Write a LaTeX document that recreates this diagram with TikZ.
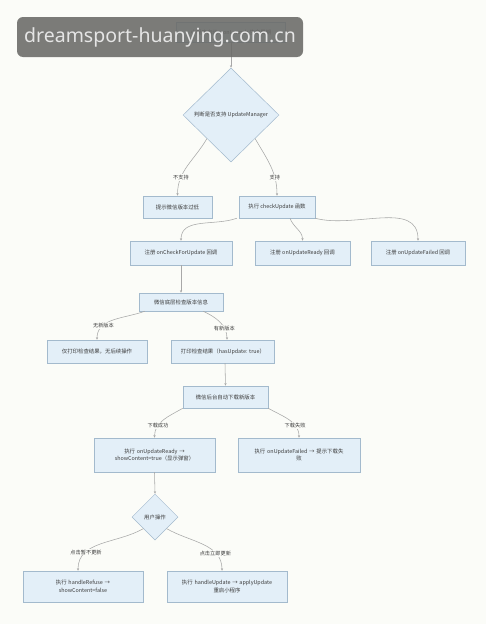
\documentclass[tikz,border=0pt]{standalone}
\usepackage{fontspec}
\setmainfont{Noto Sans}
\newfontfamily\cjk{Noto Sans CJK SC}
\usetikzlibrary{shapes.geometric,arrows.meta}
\definecolor{bgcol}{HTML}{FBFCF8}
\definecolor{boxfill}{HTML}{E3EFF8}
\definecolor{boxline}{HTML}{A3BACD}
\definecolor{txtcol}{HTML}{3C3C3C}
\definecolor{edgecol}{HTML}{A8A8A8}
\definecolor{wmfill}{HTML}{6A6A67}
\tikzset{
  box/.style={draw=boxline, fill=boxfill, line width=0.5pt, text=txtcol, align=center,
    font=\cjk\fontsize{5.4}{7.5}\selectfont, inner sep=1pt},
  dia/.style={box, diamond, aspect=1},
  lbl/.style={fill=bgcol, text=txtcol, font=\cjk\fontsize{5.2}{6}\selectfont, inner sep=1pt},
  edge/.style={draw=edgecol, line width=0.55pt, -{Stealth[length=2.6pt,width=2.2pt]}}
}
\begin{document}
\begin{tikzpicture}[x=1pt,y=-1pt]
\fill[bgcol] (0,0) rectangle (486,624);
\useasboundingbox (0,0) rectangle (486,624);

\node[box, minimum width=109pt, minimum height=20pt] (n1) at (231,32) {小程序启动：onLaunch 生命周期};
\node[dia, minimum width=96pt, minimum height=94pt] (d1) at (231,115) {判断是否支持 UpdateManager};
\node[box, minimum width=69pt, minimum height=22pt] (n2) at (177.5,207) {提示微信版本过低};
\node[box, minimum width=76pt, minimum height=22pt] (n3) at (277,207) {执行 checkUpdate 函数};
\node[box, minimum width=102pt, minimum height=24pt] (n4) at (181,253) {注册 onCheckForUpdate 回调};
\node[box, minimum width=95pt, minimum height=24pt] (n5) at (302.5,253) {注册 onUpdateReady 回调};
\node[box, minimum width=94pt, minimum height=24pt] (n6) at (418,253) {注册 onUpdateFailed 回调};
\node[box, minimum width=84pt, minimum height=18pt] (n7) at (181,302) {微信底层检查版本信息};
\node[box, minimum width=100pt, minimum height=23pt] (n8) at (97,351.5) {仅打印检查结果，无后续操作};
\node[box, minimum width=103pt, minimum height=23pt] (n9) at (223,351.5) {打印检查结果（hasUpdate: true）};
\node[box, minimum width=85pt, minimum height=22pt] (n10) at (225.5,397) {微信后台自动下载新版本};
\node[box, minimum width=121pt, minimum height=34pt, text width=105pt] (n11) at (154.5,455) {执行 onUpdateReady →\\showContent=true（显示弹窗）};
\node[box, minimum width=122pt, minimum height=34pt, text width=100pt] (n12) at (299,455) {执行 onUpdateFailed → 提示下载失\\败};
\node[dia, minimum width=46pt, minimum height=46pt] (d2) at (155,517) {用户操作};
\node[box, minimum width=120pt, minimum height=31pt, text width=105pt] (n13) at (83,586.5) {执行 handleRefuse →\\showContent=false};
\node[box, minimum width=120pt, minimum height=31pt, text width=105pt] (n14) at (227,586.5) {执行 handleUpdate → applyUpdate\\重启小程序};

\draw[edge] (n1.south) -- (d1.north);
\draw[edge] (d1.south west) to[out=-120,in=90] node[lbl,pos=0.72] {不支持} (n2.north);
\draw[edge] (d1.south east) to[out=-60,in=90] node[lbl,pos=0.72] {支持} (n3.north);
\draw[edge] ([xshift=-2pt]n3.south west) to[out=-160,in=90] (n4.north);
\draw[edge] ([xshift=13pt]n3.south) to[out=-70,in=90] (n5.north);
\draw[edge] (n3.south east) to[out=-15,in=90] (n6.north);
\draw[edge] (n4.south) -- (n7.north);
\draw[edge] ([xshift=6pt]n7.south west) to[out=-160,in=90] node[lbl,pos=0.7] {无新版本} (n8.north);
\draw[edge] ([xshift=-20pt]n7.south east) to[out=-25,in=90] node[lbl,pos=0.7] {有新版本} ([xshift=4pt]n9.north);
\draw[edge] ([xshift=2pt]n9.south) -- (n10.north);
\draw[edge] (n10.south west) to[out=-150,in=90] node[lbl,pos=0.7] {下载成功} (n11.north);
\draw[edge] (n10.south east) to[out=-30,in=90] node[lbl,pos=0.7] {下载失败} (n12.north);
\draw[edge] (n11.south) -- (d2.north);
\draw[edge] (d2.south west) to[out=-150,in=90] node[lbl,pos=0.72] {点击暂不更新} ([xshift=-5pt]n13.north);
\draw[edge] (d2.south east) to[out=-30,in=90] node[lbl,pos=0.72] {点击立即更新} ([xshift=-5pt]n14.north);

\node[fill=wmfill, fill opacity=0.88, text opacity=1, rounded corners=6pt, minimum width=286pt, minimum height=40pt,
  text=white!90!black, font=\fontsize{19.5}{24}\selectfont, inner sep=0pt] (wm) at (160,37) {dreamsport-huanying.com.cn};
\end{tikzpicture}
\end{document}
